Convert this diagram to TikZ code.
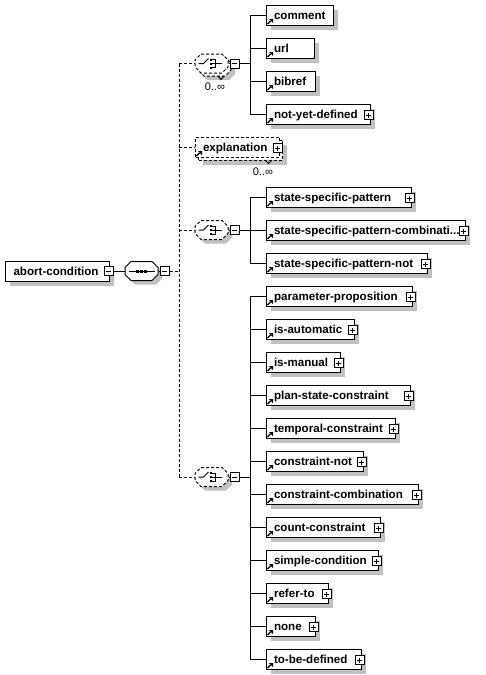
\documentclass[tikz,border=0pt]{standalone}
\usepackage{fontspec}
\setmainfont{Liberation Sans}
\usetikzlibrary{shadows,calc}
\definecolor{shd}{RGB}{192,192,192}
\tikzset{
  boxbase/.style={draw, fill=white, rectangle, minimum height=20pt, inner xsep=7.5pt, inner ysep=0pt, anchor=west,
    font=\bfseries\fontsize{11.6}{13}\selectfont, text height=9pt, text depth=1pt, align=left},
  shadowed/.style={drop shadow={shadow xshift=4.5pt, shadow yshift=-4.5pt, fill=shd, opacity=1, draw=none}},
  elbox/.style={boxbase, shadowed},
  pmsq/.style={draw, fill=white, rectangle, minimum size=9pt, inner sep=0pt},
  dashline/.style={dash pattern=on 3pt off 2pt},
  occ/.style={font=\fontsize{11}{13}\selectfont, inner sep=0pt, anchor=base},
  compo/.style={inner sep=0pt, minimum width=33pt, minimum height=19pt},
}
% plus / minus square: name, x, y, plus(1)/minus(0)
\newcommand\xpm[4]{%
  \node[pmsq] (#1) at (#2,#3) {};
  \draw ([xshift=-2.5pt]#1.center) -- ([xshift=2.5pt]#1.center);
  \ifnum#4=1 \draw ([yshift=-2.5pt]#1.center) -- ([yshift=2.5pt]#1.center);\fi}
% reference arrow icon
\newcommand\xarr[1]{%
  \draw[line width=1.3pt] ([xshift=1.5pt,yshift=1.5pt]#1.south west) -- ([xshift=4.5pt,yshift=4.5pt]#1.south west);
  \fill ([xshift=3pt,yshift=6.5pt]#1.south west) -- ([xshift=7pt,yshift=6.5pt]#1.south west) -- ([xshift=7pt,yshift=2.5pt]#1.south west) -- cycle;}
% element box: name, center y, right x, text, plus?
\newcommand\xelem[5]{%
  \pgfmathsetmacro\xw{#3-266}%
  \pgfmathsetmacro\xtw{#3-281}%
  \node[elbox, minimum width=\xw pt, text width=\xtw pt] (#1) at (266,#2) {\mbox{#4}};
  \xarr{#1}%
  \ifnum#5=1 \xpm{#1p}{#3-1.5}{#2+1}{1}\fi}
% octagon outline: [options]{cx}{cy}
\newcommand\octdraw[3][]{%
  \draw[#1] (#2-10.5,#3-9.5) -- (#2+10.5,#3-9.5) -- (#2+16.5,#3-3.5) -- (#2+16.5,#3+3.5) -- (#2+10.5,#3+9.5) -- (#2-10.5,#3+9.5) -- (#2-16.5,#3+3.5) -- (#2-16.5,#3-3.5) -- cycle;}
\newcommand\seqicon[2]{%
  \draw (#1-13,#2) -- (#1+13,#2);
  \fill (#1-5.5,#2-1.5) rectangle (#1-2.5,#2+1.5);
  \fill (#1-1.5,#2-1.5) rectangle (#1+1.5,#2+1.5);
  \fill (#1+2.5,#2-1.5) rectangle (#1+5.5,#2+1.5);}
\newcommand\choiceicon[2]{%
  \draw (#1-13,#2) -- (#1-8,#2) -- (#1-3,#2-5);
  \fill (#1-2,#2-5) rectangle (#1,#2-3);
  \fill (#1-2,#2-1) rectangle (#1,#2+1);
  \fill (#1-2,#2+3) rectangle (#1,#2+5);
  \draw (#1,#2-4) -- (#1+3.5,#2-4) -- (#1+3.5,#2+4) -- (#1,#2+4);
  \draw (#1,#2) -- (#1+10,#2);}
\begin{document}
\begin{tikzpicture}[x=1pt,y=-1pt,line width=1pt]
\fill[white] (0,0) rectangle (485,675);
\useasboundingbox (0,0) rectangle (485,675);

% root element
\node[elbox, inner xsep=8pt, minimum width=104pt, text width=88pt] (abort) at (5,271) {abort-condition};
\xpm{abortm}{108.8}{271}{0}

% sequence
\octdraw[fill=shd,draw=none,shift={(4,4)}]{141.5}{271}
\octdraw[fill=white]{141.5}{271}
\node[compo] (seq) at (141.5,271) {};
\seqicon{141.5}{271}
\xpm{seqm}{164.5}{271}{0}
\draw (abortm.east) -- (seq.west);
\draw (seq.east) -- (seqm.west);

% choice 1 (0..unbounded)
\octdraw[fill=shd,draw=none,shift={(4,4)}]{214.5}{66.5}
\octdraw[fill=white,dashline]{214.5}{66.5}
\octdraw[fill=white,dashline]{211.5}{63.5}
\node[compo] (c1) at (211.5,63.5) {};
\choiceicon{211.5}{63.5}
\draw (218,76) -- (221,79.5) -- (224,76);
\node[occ] (o1) at (215,90) {0..∞};
\xpm{c1m}{234.5}{63.5}{0}
\draw (c1.east) -- (c1m.west);

% explanation (0..unbounded)
\node[elbox, dashline, minimum width=84pt] (explb) at (198,150) {};
\node[boxbase, dashline, minimum width=84pt, text width=69pt, inner xsep=7.5pt] (explf) at (195,147) {\mbox{explanation}};
\xarr{explf}
\xpm{explp}{277.5}{148}{1}
\draw (265,160) -- (268.5,163.5) -- (272,160);
\node[occ] (o2) at (263,175) {0..∞};

% choice 2
\octdraw[fill=shd,draw=none,shift={(4,4)}]{211.5}{230}
\octdraw[fill=white,dashline]{211.5}{230}
\node[compo] (c2) at (211.5,230) {};
\choiceicon{211.5}{230}
\xpm{c2m}{234.5}{230}{0}
\draw (c2.east) -- (c2m.west);

% choice 3
\octdraw[fill=shd,draw=none,shift={(4,4)}]{211.5}{477}
\octdraw[fill=white,dashline]{211.5}{477}
\node[compo] (c3) at (211.5,477) {};
\choiceicon{211.5}{477}
\xpm{c3m}{234.5}{477}{0}
\draw (c3.east) -- (c3m.west);

% dashed sequence connectors
\coordinate (dj) at (179,271);
\draw[dashline] (seqm.east) -- (dj);
\draw[dashline] (dj |- c1.west) -- (dj |- c3.west);
\foreach \n in {c1,explf,c2,c3} \draw[dashline] (dj |- \n.west) -- (\n.west);

% group 1
\xelem{comment}{15}{333}{comment}{0}
\xelem{url}{48}{314}{url}{0}
\xelem{bibref}{81}{315}{bibref}{0}
\xelem{nyd}{114}{370}{not-yet-defined}{1}
\coordinate (j1) at (250,63.5);
\draw (c1m.east) -- (j1);
\draw (j1 |- comment.west) -- (j1 |- nyd.west);
\foreach \n in {comment,url,bibref,nyd} \draw (j1 |- \n.west) -- (\n.west);

% group 2
\xelem{ssp}{197}{411}{state-specific-pattern}{1}
\xelem{sspc}{230}{465}{state-specific-pattern-combinati...}{1}
\xelem{sspn}{263}{427}{state-specific-pattern-not}{1}
\coordinate (j2) at (250,230);
\draw (c2m.east) -- (j2);
\draw (j2 |- ssp.west) -- (j2 |- sspn.west);
\foreach \n in {ssp,sspc,sspn} \draw (j2 |- \n.west) -- (\n.west);

% group 3
\xelem{pp}{296}{412}{parameter-proposition}{1}
\xelem{isa}{329}{354}{is-automatic}{1}
\xelem{ism}{362}{340}{is-manual}{1}
\xelem{psc}{395}{410}{plan-state-constraint}{1}
\xelem{tc}{428}{395}{temporal-constraint}{1}
\xelem{cn}{461}{363}{constraint-not}{1}
\xelem{cc}{494}{418}{constraint-combination}{1}
\xelem{cnt}{527}{380}{count-constraint}{1}
\xelem{sc}{560}{378}{simple-condition}{1}
\xelem{rt}{593}{328}{refer-to}{1}
\xelem{nn}{626}{315}{none}{1}
\xelem{tbd}{659}{361}{to-be-defined}{1}
\coordinate (j3) at (250,477);
\draw (c3m.east) -- (j3);
\draw (j3 |- pp.west) -- (j3 |- tbd.west);
\foreach \n in {pp,isa,ism,psc,tc,cn,cc,cnt,sc,rt,nn,tbd} \draw (j3 |- \n.west) -- (\n.west);
\end{tikzpicture}
\end{document}
